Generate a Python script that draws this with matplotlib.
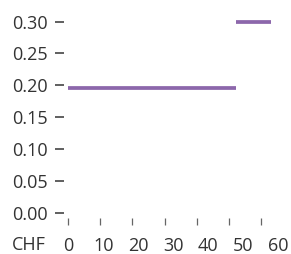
import matplotlib as mpl
import matplotlib.pyplot as plt

mpl.rcParams["font.family"] = ["Open Sans", "DejaVu Sans"]
mpl.rcParams["font.size"] = 13

# Data: price steps (CHF) and rate values
seg_start = [0, 48]
seg_end = [48, 58]
seg_value = [0.195, 0.30]

x_ticks = [0, 10, 20, 30, 40, 50, 60]
y_ticks = [0.00, 0.05, 0.10, 0.15, 0.20, 0.25, 0.30]
x_unit = "CHF"

text_color = "#333333"
line_color = "#8c67ab"

fig = plt.figure(figsize=(2.91, 2.54), dpi=100)
ax = fig.add_axes([68.3 / 291, 41.5 / 254, (278 - 68.3) / 291, (212.5 - 21.7) / 254])

ax.hlines(seg_value, seg_start, seg_end, color=line_color, linewidth=2.7,
          capstyle="butt", clip_on=False)

ax.set_xlim(0, 60)
ax.set_ylim(0, 0.30)

for s in ax.spines.values():
    s.set_visible(False)
ax.spines["left"].set_position(("outward", 3))
ax.spines["bottom"].set_position(("outward", 4))

ax.set_yticks(y_ticks)
ax.set_yticklabels([f"{v:.2f}" for v in y_ticks])
ax.tick_params(axis="y", length=6.5, width=1.2, color="#444444", pad=5.5,
               labelcolor=text_color)

# labels and tick marks sit on slightly different spacing in the reference
ax.xaxis.remove_overlapping_locs = False
ax.set_xticks(x_ticks)
ax.set_xticklabels([str(v) for v in x_ticks])
ax.set_xticks([v * 0.918 for v in x_ticks], minor=True)
ax.tick_params(axis="x", which="major", length=0, pad=13.5, labelcolor=text_color)
ax.tick_params(axis="x", which="minor", length=5, width=0.9, color="#666666")

fig.text(12 / 291, 1 - 245 / 254, x_unit, ha="left", va="center",
         color=text_color, fontsize=13)

fig.savefig("out.png", dpi=100)
